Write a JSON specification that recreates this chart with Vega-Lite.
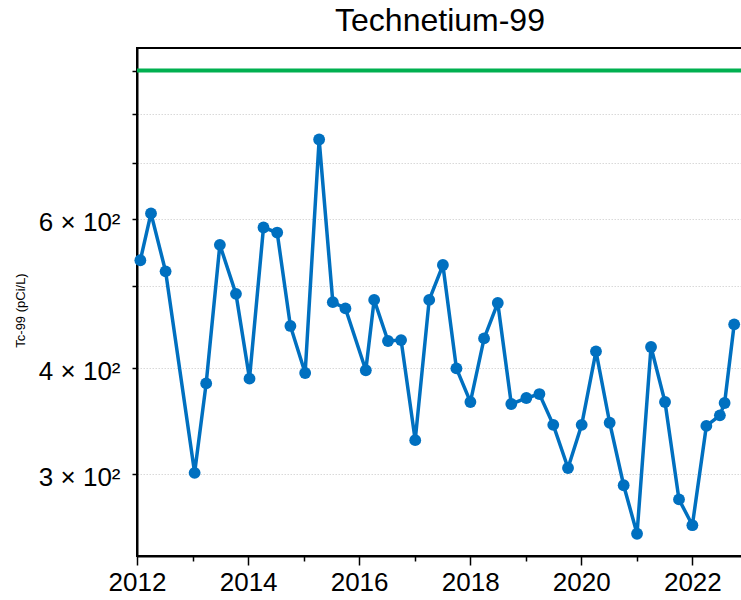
{
  "$schema": "https://vega.github.io/schema/vega-lite/v6.json",
  "width": 606,
  "height": 508,
  "autosize": {"type": "none"},
  "padding": {"left": 137, "top": 48, "right": 0, "bottom": 44},
  "background": "white",
  "title": {"text": "Technetium-99", "fontSize": 32, "font": "Liberation Sans", "fontWeight": "normal", "color": "black", "anchor": "middle", "baseline": "alphabetic", "offset": 15, "dy": 30},
  "config": {"view": {"stroke": "black", "strokeWidth": 2}, "font": "Liberation Sans"},
  "layer": [
    {
      "data": {"values": [{"value": 900}]},
      "mark": {"type": "rule", "color": "#00b050", "strokeWidth": 4},
      "encoding": {
        "y": {"field": "value", "type": "quantitative",
          "scale": {"type": "log", "domain": [240, 957], "nice": false, "zero": false},
          "axis": {"title": "Tc-99 (pCi/L)"}}
      }
    },
    {
      "data": {"values": [
        {"date": "2012-01-23", "value": 537},
        {"date": "2012-04-02", "value": 610},
        {"date": "2012-07-07", "value": 521},
        {"date": "2013-01-14", "value": 301},
        {"date": "2013-03-31", "value": 384},
        {"date": "2013-06-29", "value": 560},
        {"date": "2013-10-13", "value": 490},
        {"date": "2014-01-10", "value": 389},
        {"date": "2014-04-12", "value": 587},
        {"date": "2014-07-11", "value": 579},
        {"date": "2014-10-06", "value": 449},
        {"date": "2015-01-11", "value": 395},
        {"date": "2015-04-13", "value": 746},
        {"date": "2015-07-12", "value": 479},
        {"date": "2015-10-03", "value": 471},
        {"date": "2016-02-14", "value": 398},
        {"date": "2016-04-09", "value": 482},
        {"date": "2016-07-09", "value": 431},
        {"date": "2016-10-03", "value": 432},
        {"date": "2017-01-04", "value": 329},
        {"date": "2017-04-06", "value": 482},
        {"date": "2017-07-05", "value": 530},
        {"date": "2017-10-02", "value": 400},
        {"date": "2018-01-02", "value": 365},
        {"date": "2018-04-02", "value": 434},
        {"date": "2018-07-01", "value": 478},
        {"date": "2018-09-28", "value": 363},
        {"date": "2019-01-05", "value": 369},
        {"date": "2019-04-01", "value": 373},
        {"date": "2019-07-01", "value": 343},
        {"date": "2019-10-06", "value": 305},
        {"date": "2020-01-04", "value": 343},
        {"date": "2020-04-07", "value": 419},
        {"date": "2020-07-06", "value": 345},
        {"date": "2020-10-06", "value": 291},
        {"date": "2021-01-02", "value": 255},
        {"date": "2021-04-04", "value": 424},
        {"date": "2021-07-05", "value": 365},
        {"date": "2021-10-05", "value": 280},
        {"date": "2022-01-01", "value": 261},
        {"date": "2022-04-03", "value": 342},
        {"date": "2022-07-01", "value": 352},
        {"date": "2022-08-01", "value": 364},
        {"date": "2022-10-03", "value": 451}
      ]},
      "mark": {"type": "line", "color": "#0070c0", "strokeWidth": 3.5,
        "point": {"filled": true, "size": 140, "color": "#0070c0", "opacity": 1}},
      "encoding": {
        "x": {"field": "date", "type": "temporal",
          "scale": {"type": "utc", "domain": ["2012-01-01", "2022-11-30"], "nice": false},
          "axis": {
            "title": null,
            "values": [
              {"year": 2012, "utc": true}, {"year": 2013, "utc": true}, {"year": 2014, "utc": true},
              {"year": 2015, "utc": true}, {"year": 2016, "utc": true}, {"year": 2017, "utc": true},
              {"year": 2018, "utc": true}, {"year": 2019, "utc": true}, {"year": 2020, "utc": true},
              {"year": 2021, "utc": true}, {"year": 2022, "utc": true}
            ],
            "labelExpr": "utcyear(datum.value) % 2 == 0 ? utcFormat(datum.value, '%Y') : ''",
            "labelFontSize": 26,
            "labelColor": "black",
            "labelFont": "Liberation Sans",
            "labelPadding": 4,
            "labelFlush": false,
            "labelOverlap": false,
            "grid": false,
            "domainColor": "black",
            "domainWidth": 2,
            "tickColor": "black",
            "tickWidth": 1.5,
            "tickSize": {"condition": {"test": "utcyear(datum.value) % 2 == 1", "value": 5}, "value": 9}
          }
        },
        "y": {"field": "value", "type": "quantitative",
          "scale": {"type": "log", "domain": [240, 957], "nice": false, "zero": false},
          "axis": {
            "title": "Tc-99 (pCi/L)",
            "titleFontSize": 13,
            "titleFontWeight": "normal",
            "titleColor": "black",
            "titleFont": "Liberation Sans",
            "titleX": -117,
            "titleY": 262,
            "titleAngle": -90,
            "titleAlign": "center",
            "titleBaseline": "middle",
            "values": [300, 400, 500, 600, 700, 800, 900],
            "labelExpr": "datum.value == 300 ? '3 × 10²' : datum.value == 400 ? '4 × 10²' : datum.value == 600 ? '6 × 10²' : ''",
            "labelFontSize": 26,
            "labelColor": "black",
            "labelFont": "Liberation Sans",
            "labelPadding": 12,
            "labelOffset": 3,
            "labelFlush": false,
            "labelOverlap": false,
            "grid": true,
            "gridColor": "#d9d9d9",
            "gridDash": [1.5, 1.5],
            "gridWidth": 1,
            "domainColor": "black",
            "domainWidth": 2,
            "tickColor": "black",
            "tickWidth": 1.5,
            "tickSize": 5
          }
        }
      }
    }
  ]
}
